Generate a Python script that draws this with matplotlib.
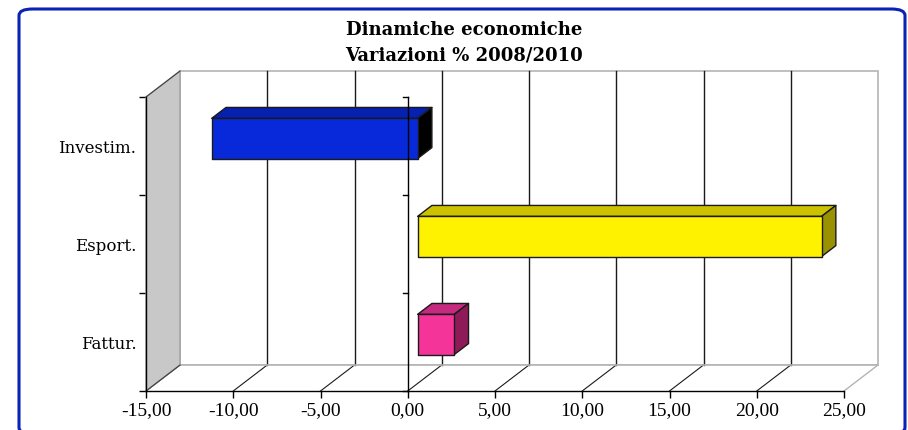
import matplotlib.pyplot as plt
from matplotlib.patches import Polygon, FancyBboxPatch

# data
categories = ['Fattur.', 'Esport.', 'Investim.']
values = [2.1, 23.15, -11.8]
front_colors = ['#f5349a', '#fff200', '#0829da']
top_colors = ['#c42a7d', '#ccc200', '#0620b0']
side_colors = ['#8e1a57', '#999100', '#000000']
xticks = [-15, -10, -5, 0, 5, 10, 15, 20, 25]
xticklabels = ['-15,00', '-10,00', '-5,00', '0,00', '5,00', '10,00', '15,00', '20,00', '25,00']

W, H = 908, 431
fig = plt.figure(figsize=(W / 100, H / 100), dpi=100)

# rounded blue frame
fig.patches.append(FancyBboxPatch((19 / W, -4 / H), 886 / W, (H - 6) / H,
                                  boxstyle='round,pad=0,rounding_size=0.015',
                                  transform=fig.transFigure, fill=False,
                                  edgecolor='#0a22b8', linewidth=2.2))

fig.text(0.511, 1 - 30 / H, 'Dinamiche economiche', ha='center', va='center',
         family='DejaVu Serif', fontweight='bold', fontsize=13)
fig.text(0.511, 1 - 55 / H, 'Variazioni % 2008/2010', ha='center', va='center',
         family='DejaVu Serif', fontweight='bold', fontsize=13)

# front plane of the 3d box
ax = fig.add_axes([146 / W, (H - 392) / H, 698 / W, 294 / H])
x0, x1 = -15, 25
y0, y1 = -0.5, 2.5
ax.set_xlim(x0, x1)
ax.set_ylim(y0, y1)
ax.patch.set_alpha(0)

DX = 34 / (698 / 40)   # depth shift in data units
DY = 26 / (294 / 3)

kw = dict(clip_on=False)

# back wall
ax.add_patch(Polygon([(x0 + DX, y0 + DY), (x1 + DX, y0 + DY), (x1 + DX, y1 + DY), (x0 + DX, y1 + DY)],
                     closed=True, facecolor='white', edgecolor='#b4b4b4', lw=1.2, zorder=1, **kw))
for v in xticks[1:-1]:
    ax.plot([v + DX, v + DX], [y0 + DY, y1 + DY], color='#1a1a1a', lw=1, zorder=2, **kw)

# floor
ax.add_patch(Polygon([(x0, y0), (x1, y0), (x1 + DX, y0 + DY), (x0 + DX, y0 + DY)],
                     closed=True, facecolor='white', edgecolor='none', zorder=1, **kw))
for v in xticks[:-1]:
    ax.plot([v, v + DX], [y0, y0 + DY], color='#1a1a1a', lw=0.8, zorder=2, **kw)
ax.plot([x1, x1 + DX], [y0, y0 + DY], color='#b4b4b4', lw=1, zorder=2, **kw)
ax.plot([x0 + DX, x1 + DX], [y0 + DY, y0 + DY], color='#b4b4b4', lw=1.2, zorder=2, **kw)

# left wall
ax.add_patch(Polygon([(x0, y0), (x0, y1), (x0 + DX, y1 + DY), (x0 + DX, y0 + DY)],
                     closed=True, facecolor='#c8c8c8', edgecolor='#a0a0a0', lw=1, zorder=3, **kw))
ax.plot([x0, x0 + DX], [y1, y1 + DY], color='#404040', lw=0.8, zorder=3, **kw)
ax.plot([x0, x0 + DX], [y0, y0 + DY], color='#404040', lw=0.8, zorder=3, **kw)

# 3d bars
f0, f1 = 0.29, 0.71
h = 0.205
for i, v in enumerate(values):
    a, b = min(0, v), max(0, v)
    sx0, sy0 = f0 * DX, f0 * DY
    sx1, sy1 = f1 * DX, f1 * DY
    front = [(a + sx0, i - h + sy0), (b + sx0, i - h + sy0), (b + sx0, i + h + sy0), (a + sx0, i + h + sy0)]
    top = [(a + sx0, i + h + sy0), (b + sx0, i + h + sy0), (b + sx1, i + h + sy1), (a + sx1, i + h + sy1)]
    side = [(b + sx0, i - h + sy0), (b + sx0, i + h + sy0), (b + sx1, i + h + sy1), (b + sx1, i - h + sy1)]
    for pts, c in [(top, top_colors[i]), (side, side_colors[i]), (front, front_colors[i])]:
        ax.add_patch(Polygon(pts, closed=True, facecolor=c, edgecolor='#1a1a1a',
                             lw=1, joinstyle='round', zorder=5, **kw))

# category axis crossing at 0
ax.plot([0, 0], [y0, y1], color='black', lw=1, zorder=6, **kw)
for yb in [-0.5, 0.5, 1.5, 2.5]:
    ax.plot([-0.29, 0], [yb, yb], color='black', lw=1, zorder=6, **kw)

for s in ['top', 'right']:
    ax.spines[s].set_visible(False)
for s in ['left', 'bottom']:
    ax.spines[s].set_color('black')
    ax.spines[s].set_linewidth(1)
    ax.spines[s].set_zorder(7)

ax.set_xticks(xticks)
ax.set_xticklabels(xticklabels, family='Liberation Serif', fontsize=14)
ax.tick_params(axis='x', direction='out', length=5, width=1, pad=2)
ax.set_yticks(range(len(categories)))
ax.set_yticklabels(categories, family='DejaVu Serif', fontsize=12)
ax.set_yticks([-0.5, 0.5, 1.5, 2.5], minor=True)
ax.tick_params(axis='y', which='major', length=0, pad=7)
ax.tick_params(axis='y', which='minor', direction='out', length=5, width=1)

fig.savefig('out.png', dpi=100)
